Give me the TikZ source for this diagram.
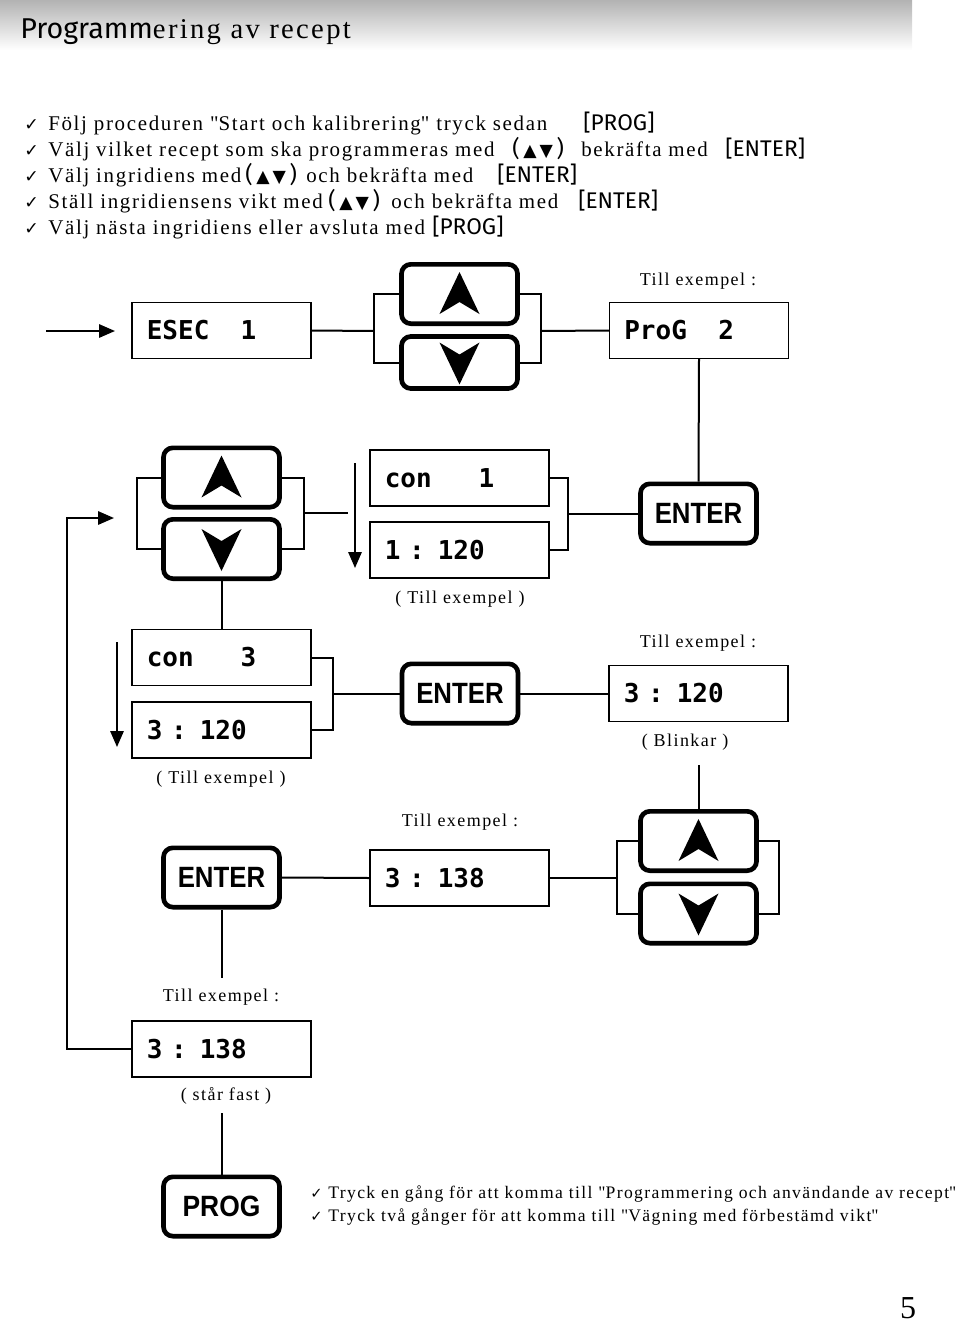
\documentclass[tikz,border=0pt]{standalone}
\usepackage{fontspec}
\usepackage{graphicx}
\setmainfont{Liberation Serif}[LetterSpace=8]
\newfontfamily\plainserif{Liberation Serif}
\newfontfamily\sansb{Liberation Sans}
\newfontfamily\comic{Fira Sans}
\newfontfamily\lcd{DejaVu Sans Mono}
\newfontfamily\sym{DejaVu Sans}
\usetikzlibrary{arrows.meta}
\tikzset{
  disp/.style={draw, line width=1.1pt, text width=112pt, inner xsep=11.125pt, align=left,
    minimum height=42pt, inner ysep=0pt, font=\lcd\bfseries\fontsize{19.5pt}{20pt}\selectfont},
  btn/.style={draw, line width=3.5pt, rounded corners=7pt, minimum width=87pt, minimum height=44.5pt,
    inner sep=0pt, font=\sansb\bfseries\fontsize{22pt}{24pt}\selectfont},
  conn/.style={line width=1.5pt},
  arr/.style={conn, -{Triangle[length=12pt,width=10pt]}},
  lbl/.style={inner sep=0pt, font=\fontsize{13.5pt}{16pt}\selectfont},
  txt/.style={inner sep=0pt, anchor=base west, font=\fontsize{15.7pt}{19pt}\selectfont},
  brk/.style={inner sep=0pt, anchor=base west, font=\comic\fontsize{17pt}{19pt}\selectfont},
  chk/.style={inner sep=0pt, anchor=base west, font=\sym\fontsize{13pt}{15pt}\selectfont},
  btxt/.style={inner sep=0pt, anchor=base west, font=\fontsize{13.2pt}{15pt}\selectfont},
}
\newcommand\upchev[1]{\fill (#1) ++(0,-22) -- ++(-20,42) -- ++(20,-12) -- ++(20,12) -- cycle;}
\newcommand\dnchev[1]{\fill (#1) ++(0,22) -- ++(-20,-42) -- ++(20,12) -- ++(20,-12) -- cycle;}
\newcommand\ud{\,{\sym\fontsize{13pt}{14pt}\selectfont ▲\,▼}\,}
\newcommand\lsp{\phantom{0}}
\newcommand\qq{\textquotedbl}
\begin{document}
\begin{tikzpicture}[x=0.75pt,y=-0.75pt]
\useasboundingbox (0,0) rectangle (960,1324);
% header
\shade[top color=gray!60, bottom color=white] (0,0) rectangle (912,50);
\node[inner sep=0pt, anchor=base west] (title) at (20,38)
  {{\comic\fontsize{21.5pt}{24pt}\selectfont Programm}{\fontsize{21.5pt}{24pt}\selectfont ering av recept}};
% instructions
\node[chk] (c1) at (24,130) {✓};
\node[txt] (t1) at (48,130) {Följ proceduren \qq Start och kalibrering\qq\ tryck sedan};
\node[brk] (b1) at (583,130) {[PROG]};
\node[chk] (c2) at (24,156) {✓};
\node[txt] (t2) at (48,156) {Välj vilket recept som ska programmeras med};
\node[brk] (b2a) at (512,156) {(\ud)};
\node[txt] (t2b) at (581,156) {bekräfta med};
\node[brk] (b2) at (725,156) {[ENTER]};
\node[chk] (c3) at (24,182) {✓};
\node[txt] (t3) at (48,182) {Välj ingridiens med};
\node[brk] (b3a) at (245,182) {(\ud)};
\node[txt] (t3b) at (306,182) {och bekräfta med};
\node[brk] (b3) at (497,182) {[ENTER]};
\node[chk] (c4) at (24,208) {✓};
\node[txt] (t4) at (48,208) {Ställ ingridiensens vikt med};
\node[brk] (b4a) at (328,208) {(\ud)};
\node[txt] (t4b) at (391,208) {och bekräfta med};
\node[brk] (b4) at (578,208) {[ENTER]};
\node[chk] (c5) at (24,234) {✓};
\node[txt] (t5) at (48,234) {Välj nästa ingridiens eller avsluta med};
\node[brk] (b5) at (432,234) {[PROG]};
% displays
\node[disp] (d1) at (221.5,330.5) {ESEC\lsp\lsp 1};
\node[disp] (d2) at (699,330.5) {ProG\lsp\lsp 2};
\node[disp] (d3) at (459.5,478) {con\lsp\lsp\lsp 1};
\node[disp] (d4) at (459.5,550) {1 : 120};
\node[disp] (d5) at (221.5,657.5) {con\lsp\lsp\lsp 3};
\node[disp] (d6) at (221.5,730) {3 : 120};
\node[disp] (d7) at (698.5,693.5) {3 : 120};
\node[disp] (d8) at (459.5,878) {3 : 138};
\node[disp] (d9) at (221.5,1049) {3 : 138};
% buttons
\node[btn] (u1) at (459.5,294) {};
\node[btn, minimum height=39pt] (n1) at (459.5,362.5) {};
\node[btn] (u2) at (221.5,477.5) {};
\node[btn] (n2) at (221.5,549) {};
\node[btn] (u3) at (698.5,841) {};
\node[btn] (n3) at (698.5,913.5) {};
\node[btn] (e1) at (698.5,513.5) {\scalebox{0.88}[1]{ENTER}};
\node[btn] (e2) at (460,693.5) {\scalebox{0.88}[1]{ENTER}};
\node[btn] (e3) at (221.5,877.5) {\scalebox{0.88}[1]{ENTER}};
\node[btn] (p1) at (221.5,1206.5) {\scalebox{0.9}[1]{PROG}};
\upchev{u1.center}\dnchev{n1.center}
\upchev{u2.center}\dnchev{n2.center}
\upchev{u3.center}\dnchev{n3.center}
% labels
\node[lbl] (l1) at (698,281) {Till exempel :};
\node[lbl] (l2) at (460,599) {( Till exempel )};
\node[lbl] (l3) at (698,643) {Till exempel :};
\node[lbl] (l4) at (685,742) {( Blinkar )};
\node[lbl] (l5) at (221,779) {( Till exempel )};
\node[lbl] (l6) at (460,822) {Till exempel :};
\node[lbl] (l7) at (221,997) {Till exempel :};
\node[lbl] (l8) at (226,1096) {( står fast )};
% connectors row 1
\coordinate (inA) at (46,331);
\coordinate (inB) at (115,331);
\draw[arr] (inA) -- (inB);
\coordinate (g1l) at (374,331);
\coordinate (g1r) at (541,331);
\draw[conn] (d1.east) -- (g1l);
\draw[conn] (u1.west) -| (g1l) |- (n1.west);
\draw[conn] (u1.east) -| (g1r) |- (n1.east);
\draw[conn] (g1r) -- (d2.west);
\draw[conn] (d2.south) -- (e1.north);
% row 2
\coordinate (g3r) at (568,513.5);
\draw[conn] (d3.east) -| (g3r) |- (d4.east);
\draw[conn] (g3r) -- (e1.west);
\coordinate (aA) at (355,463);
\coordinate (aB) at (355,568);
\draw[arr] (aA) -- (aB);
\coordinate (g2l) at (137,513);
\coordinate (g2r) at (304,513);
\coordinate (g2e) at (348,513);
\draw[conn] (u2.west) -| (g2l) |- (n2.west);
\draw[conn] (u2.east) -| (g2r) |- (n2.east);
\draw[conn] (g2r) -- (g2e);
\draw[conn] (n2.south) -- (d5.north);
% row 3
\coordinate (bA) at (117,642);
\coordinate (bB) at (117,747);
\draw[arr] (bA) -- (bB);
\coordinate (g5r) at (333,693.5);
\draw[conn] (d5.east) -| (g5r) |- (d6.east);
\draw[conn] (g5r) -- (e2.west);
\draw[conn] (e2.east) -- (d7.west);
\coordinate (bl) at (698.5,765);
\draw[conn] (bl) -- (u3.north);
% row 4
\coordinate (g8l) at (617,878);
\coordinate (g8r) at (779,878);
\draw[conn] (u3.west) -| (g8l) |- (n3.west);
\draw[conn] (u3.east) -| (g8r) |- (n3.east);
\draw[conn] (d8.east) -- (g8l);
\draw[conn] (e3.east) -- (d8.west);
\coordinate (e3b) at (221.5,978);
\draw[conn] (e3.south) -- (e3b);
% loop
\draw[arr] (d9.west) -- (67,1049) -- (67,518) -- (114,518);
\coordinate (sf) at (221.5,1113);
\draw[conn] (sf) -- (p1.north);
% bottom texts
\node[chk, font=\sym\fontsize{11pt}{12pt}\selectfont] (c6) at (310,1198) {✓};
\node[btxt] (t6) at (328,1198) {Tryck en gång för att komma till \qq Programmering och användande av recept\qq};
\node[chk, font=\sym\fontsize{11pt}{12pt}\selectfont] (c7) at (310,1221) {✓};
\node[btxt] (t7) at (328,1221) {Tryck två gånger för att komma till \qq Vägning med förbestämd vikt\qq};
\node[inner sep=0pt, font=\plainserif\fontsize{24pt}{28pt}\selectfont] (pg) at (908,1308) {5};
\end{tikzpicture}
\end{document}
